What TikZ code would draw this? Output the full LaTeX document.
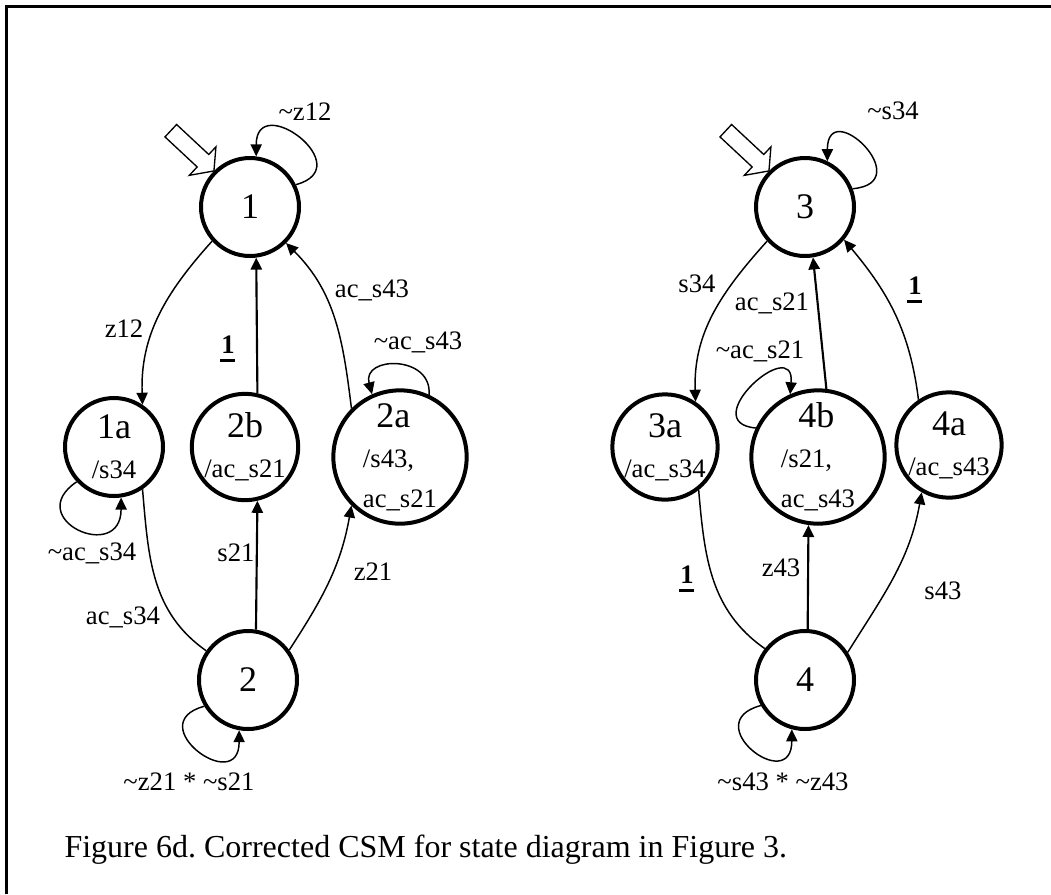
\documentclass[tikz,border=0pt]{standalone}
\usepackage{fontspec}
\setmainfont{Liberation Serif}
\usepackage{tikz}
\usetikzlibrary{calc}
\usetikzlibrary{positioning}
\usetikzlibrary{arrows.meta}
\frenchspacing
\tikzstyle{statenode} = [draw, circle, line width=1.5pt, minimum size=36.75pt, inner sep=0pt, align=center, font=\fontsize{13.5}{15}\selectfont]
\tikzstyle{bignode} = [statenode, minimum size=50pt, align=left]
\tikzstyle{lbl} = [inner sep=0pt]
\tikzstyle{trans} = [line width=0.55pt, -{Triangle[length=4.5pt,width=4.2pt]}]
\tikzstyle{straighttrans} = [trans, line width=0.8pt]
\tikzstyle{plaintrans} = [line width=0.55pt]
\tikzstyle{selfloop} = [trans, min distance=25pt]
\tikzstyle{startarrow} = [draw, line width=0.5pt, fill=white]
\newcommand{\outs}[1]{{\normalsize #1}}
\newcommand{\ulone}{\textbf{1}\llap{\rule[-3pt]{5.5pt}{1.1pt}}}

\begin{document}
\begin{tikzpicture}[x=0.375pt, y=0.375pt]
\useasboundingbox (0,0) rectangle (1051,-894);
\draw[line width=1.1pt] (6.5,-894) -- (6.5,-6.5) -- (1051,-6.5);

\node[statenode] (one) at (250,-207) {1};
\node[statenode] (onea) at ($(one)+(-136,-240)$) {1a\\\outs{/s34}};
\node[statenode] (twob) at ($(one)+(-5,-240)$) {2b\\\outs{/ac\_s21}};
\node[bignode] (twoa) at ($(one)+(150,-250)$) {\hspace*{5pt}2a\\\outs{/s43,}\\\outs{ac\_s21}};
\node[statenode] (two) at ($(one)+(-2,-473)$) {2};
\node[statenode] (three) at ($(one)+(555,0)$) {3};
\node[statenode] (threea) at ($(three)+(-140,-240)$) {3a\\\outs{/ac\_s34}};
\node[bignode] (fourb) at ($(three)+(13,-250)$) {\hspace*{6.5pt}4b\\\outs{/s21,}\\\outs{ac\_s43}};
\node[statenode] (foura) at ($(three)+(144,-238)$) {4a\\\outs{/ac\_s43}};
\node[statenode] (four) at ($(three)+(0,-473)$) {4};

\draw[startarrow, shift={(one.135)}, rotate=-43] (0,0) -- (-15,19) -- (-15,8.5) -- (-59,8.5) -- (-59,-8.5) -- (-15,-8.5) -- (-15,-20) -- cycle;
\draw[startarrow, shift={(three.135)}, rotate=-43] (0,0) -- (-15,19) -- (-15,8.5) -- (-59,8.5) -- (-59,-8.5) -- (-15,-8.5) -- (-15,-20) -- cycle;

\draw[trans] (one.222) to[out=228, in=92] (onea.56);
\draw[straighttrans] (twob.77) -- (one.277);
\draw[trans] (twoa.135) to[out=97, in=-45] (one.-45);
\draw[plaintrans] (onea.-56) to[out=-85, in=145] (two.145);
\draw[straighttrans] (two.81) -- (twob.283);
\draw[trans] (two.36) to[out=57, in=-100] (twoa.225);
\draw[selfloop, min distance=25pt] (one.26) to[out=15, in=90] (one.83);
\draw[selfloop, min distance=15pt] (twoa.65) to[out=85, in=105] (twoa.114);
\draw[selfloop] (onea.223) to[out=214, in=270] (onea.278);
\draw[selfloop] (two.211) to[out=195, in=270] (two.260);

\draw[trans] (three.222) to[out=228, in=92] (threea.56);
\draw[straighttrans] (fourb.83) -- (three.279);
\draw[trans] (foura.124) to[out=97, in=-50] (three.-40);
\draw[plaintrans] (threea.-52) to[out=-85, in=145] (four.142);
\draw[straighttrans] (four.87) -- (fourb.262);
\draw[trans] (four.33) to[out=58, in=-100] (foura.240);
\draw[selfloop, min distance=25pt] (three.21) to[out=5, in=90] (three.64);
\draw[selfloop, min distance=23pt] (fourb.155) to[out=175, in=85] (fourb.114);
\draw[selfloop] (four.210) to[out=195, in=270] (four.255);

\node[lbl] (lnz12) at (305,-112) {\textasciitilde z12};
\node[lbl] (lz12) at (124,-329) {z12};
\node[lbl] (lone1) at (228,-349) {\ulone};
\node[lbl] (lacs43) at (372,-290) {ac\_s43};
\node[lbl] (lnacs43) at (418,-342) {\textasciitilde ac\_s43};
\node[lbl] (lnacs34) at (92,-553) {\textasciitilde ac\_s34};
\node[lbl] (lacs34) at (123,-617) {ac\_s34};
\node[lbl] (ls21) at (236,-553) {s21};
\node[lbl] (lz21) at (373,-572) {z21};
\node[lbl] (lnz21) at (189,-782) {\textasciitilde z21 * \textasciitilde s21};
\node[lbl] (lns34) at (893,-111) {\textasciitilde s34};
\node[lbl] (ls34) at (697,-284) {s34};
\node[lbl] (lacs21) at (772,-303) {ac\_s21};
\node[lbl] (lnacs21) at (760,-351) {\textasciitilde ac\_s21};
\node[lbl] (lone2) at (915,-290) {\ulone};
\node[lbl] (lone3) at (687,-579) {\ulone};
\node[lbl] (lz43) at (781,-568) {z43};
\node[lbl] (ls43) at (943,-591) {s43};
\node[lbl] (lns43) at (783,-782) {\textasciitilde s43 * \textasciitilde z43};

\node[lbl, anchor=base west, font=\large] (caption) at (64,-857) {Figure 6d. Corrected CSM for state diagram in Figure 3.};
\end{tikzpicture}
\end{document}
